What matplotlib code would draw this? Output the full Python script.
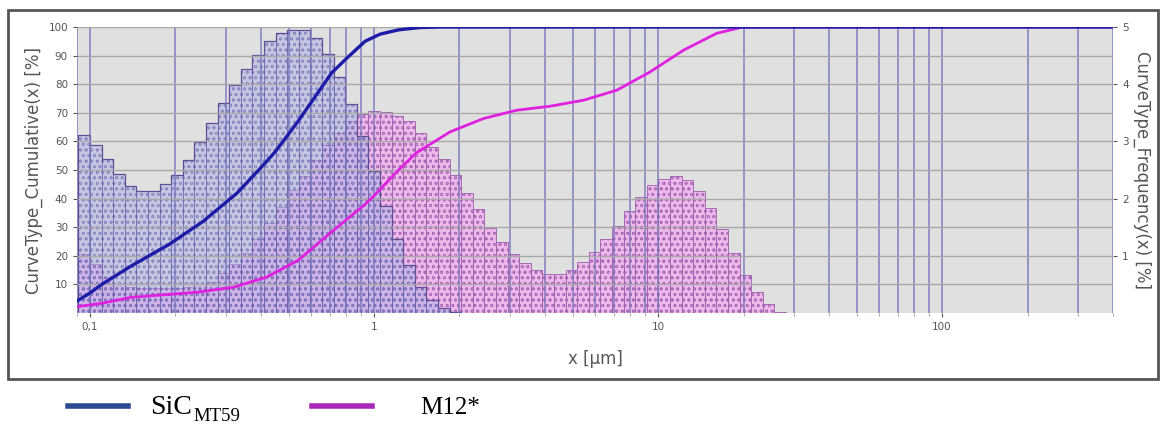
import matplotlib
matplotlib.use('Agg')
import matplotlib.pyplot as plt
import matplotlib.ticker as mticker
from matplotlib.patches import Rectangle
from matplotlib.lines import Line2D
import numpy as np

# instrument channel grid (log spaced)
BIN_START = 0.091      # um, lower edge of first channel
BIN_STEP = 0.04085     # decades per channel

# frequency per channel [%] (right axis)
sic_freq = [3.11, 2.94, 2.69, 2.43, 2.22, 2.14, 2.14, 2.25, 2.42, 2.67, 2.99,
            3.33, 3.67, 3.98, 4.26, 4.51, 4.75, 4.89, 4.95, 4.94, 4.80, 4.53,
            4.13, 3.65, 3.09, 2.48, 1.87, 1.30, 0.84, 0.46, 0.23, 0.08, 0.02]
m12_freq = [1.04, 0.85, 0.63, 0.50, 0.45, 0.43, 0.43, 0.43, 0.43, 0.45, 0.50,
            0.55, 0.70, 0.85, 1.05, 1.30, 1.58, 1.85, 2.15, 2.40, 2.67, 2.94,
            3.15, 3.35, 3.48, 3.53, 3.52, 3.45, 3.35, 3.14, 2.90, 2.70, 2.41,
            2.10, 1.81, 1.49, 1.24, 1.03, 0.87, 0.75, 0.69, 0.69, 0.75, 0.89,
            1.06, 1.29, 1.52, 1.78, 2.03, 2.24, 2.34, 2.39, 2.32, 2.14, 1.83,
            1.46, 1.05, 0.67, 0.37, 0.15, 0.02]

# cumulative curves [%] (left axis)
sic_cum_x = [0.09, 0.1, 0.11, 0.14, 0.19, 0.25, 0.33, 0.41, 0.45, 0.54, 0.71,
             0.8, 0.93, 1.05, 1.22, 1.45, 1.7, 2.0, 400]
sic_cum_y = [4.2, 7, 10, 16.5, 24, 32, 42, 52, 56.5, 67, 84,
             89, 95, 97.5, 99, 99.8, 100, 100, 100]
m12_cum_x = [0.09, 0.11, 0.14, 0.19, 0.24, 0.32, 0.42, 0.54, 0.71, 0.93, 1.0,
             1.22, 1.41, 1.85, 2.43, 3.18, 4.17, 5.47, 7.16, 9.38, 12.3, 16.1,
             19.7, 22, 400]
m12_cum_y = [2.2, 3.4, 5.5, 6.5, 7.3, 9, 12.6, 18.4, 28.4, 38, 41,
             50, 56, 63.3, 68, 70.9, 72.3, 74.4, 77.9, 84.3, 91.9, 97.8,
             99.9, 100, 100]

XTICKS = [0.1, 1, 10, 100]
XTICKLABELS = ["0,1", "1", "10", "100"]

GRAY = "#555555"
plt.rcParams['hatch.linewidth'] = 0.5

def edges(n):
    return BIN_START * 10 ** (BIN_STEP * np.arange(n + 1))

fig = plt.figure(figsize=(11.62, 4.26), dpi=100)
fig.patch.set_facecolor("white")

# outer frame of the chart
fig.patches.append(Rectangle((8 / 1162, 1 - 379 / 426), 1150 / 1162, 369 / 426,
                             transform=fig.transFigure, fill=False,
                             edgecolor="#555555", linewidth=2))

rect = [77 / 1162, 1 - 313 / 426, 1036 / 1162, 286 / 426]
ax = fig.add_axes(rect)
ax2 = ax.twinx()
ax.set_zorder(ax2.get_zorder() + 1)
ax.patch.set_visible(False)
ax2.patch.set_visible(True)
ax2.set_facecolor("#e0e0e0")

# ── frequency bars ──
e = edges(len(m12_freq))
ax2.bar(e[:-1], m12_freq, width=np.diff(e), align="edge",
        color="#f0b4ec", edgecolor="#a060b0", hatch="ooo", linewidth=0.7,
        alpha=0.9)
e = edges(len(sic_freq))
ax2.bar(e[:-1], sic_freq, width=np.diff(e), align="edge",
        color="#b0b4e4", edgecolor="#5a56a8", hatch="ooo", linewidth=0.7,
        alpha=0.55)
ax2.stairs(sic_freq, e, color="#5e4e98", linewidth=0.9)

# ── cumulative curves ──
ax.plot(m12_cum_x, m12_cum_y, color="#e020e0", linewidth=2, zorder=5)
ax.plot(sic_cum_x, sic_cum_y, color="#1c1ca8", linewidth=2.4, zorder=6)

for a in (ax, ax2):
    a.set_xscale("log")
    a.set_xlim(0.09, 400)
    for s in a.spines.values():
        s.set_visible(False)

ax.set_ylim(0, 100)
ax2.set_ylim(0, 5)

ax.xaxis.set_major_locator(mticker.FixedLocator(XTICKS))
ax.xaxis.set_major_formatter(mticker.FixedFormatter(XTICKLABELS))
ax.xaxis.set_minor_locator(mticker.LogLocator(base=10, subs=np.arange(2, 10)))
ax.xaxis.set_minor_formatter(mticker.NullFormatter())
ax.set_yticks(range(10, 101, 10))
ax2.set_yticks(range(1, 6))

ax.grid(True, which="both", axis="x", color="#7474bc", linewidth=1.1, alpha=0.9)
ax.grid(True, which="major", axis="y", color="#a8a8a8", linewidth=1)
ax.set_axisbelow(True)

ax.tick_params(axis="both", which="major", labelsize=7.5, colors=GRAY, length=3)
ax.tick_params(axis="x", which="minor", colors="#999999", length=2)
ax2.tick_params(axis="y", labelsize=7.5, colors=GRAY, length=3)

ax.set_ylabel("CurveType_Cumulative(x) [%]", fontsize=12, color=GRAY, labelpad=4)
ax2.set_ylabel("CurveType_Frequency(x) [%]", fontsize=12, color=GRAY,
               rotation=270, labelpad=16)
ax.set_xlabel("x [µm]", fontsize=12, color=GRAY, labelpad=13)

# ── legend under the frame ──
fig.lines.append(Line2D([68 / 1162, 128 / 1162], [1 - 406 / 426] * 2,
                        transform=fig.transFigure, color="#2e4a94", linewidth=4))
fig.lines.append(Line2D([312 / 1162, 372 / 1162], [1 - 406 / 426] * 2,
                        transform=fig.transFigure, color="#a828b8", linewidth=4))
fig.text(150 / 1162, 1 - 414 / 426, "SiC", fontsize=20, family="Liberation Serif",
         va="baseline")
fig.text(193 / 1162, 1 - 421 / 426, "MT59", fontsize=13.5, family="Liberation Serif",
         va="baseline")
fig.text(420 / 1162, 1 - 414 / 426, "M12*", fontsize=18, family="Liberation Serif",
         va="baseline")

plt.savefig("out.png", dpi=100)
plt.close()
